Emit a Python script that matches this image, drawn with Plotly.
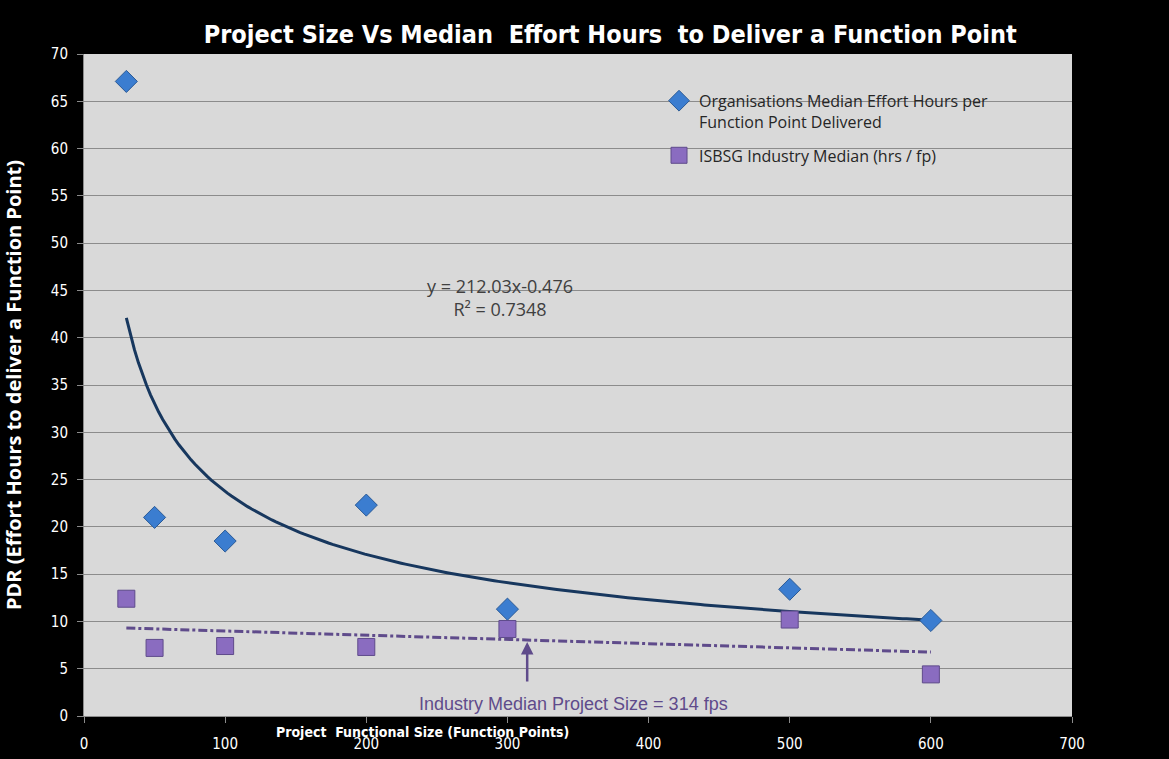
import numpy as np
import plotly.graph_objects as go

# ---- data ----
project_size = [30, 50, 100, 200, 300, 500, 600]
org_median_hours = [67.1, 21.0, 18.5, 22.3, 11.3, 13.4, 10.1]
isbsg_median_hours = [12.4, 7.2, 7.4, 7.3, 9.2, 10.2, 4.4]
industry_median_size = 314
x_ticks = [0, 100, 200, 300, 400, 500, 600, 700]
y_ticks = [0, 5, 10, 15, 20, 25, 30, 35, 40, 45, 50, 55, 60, 65, 70]

title_text = "Project Size Vs Median  Effort Hours  to Deliver a Function Point"
y_title = "PDR (Effort Hours to deliver a Function Point)"
x_title = "Project  Functional Size (Function Points)"
org_name = "Organisations Median Effort Hours per<br>Function Point Delivered"
isbsg_name = "ISBSG Industry Median (hrs / fp)"
eq_text = "y = 212.03x-0.476<br>R² = 0.7348"
median_text = "Industry Median Project Size = 314 fps"

# ---- trendlines fitted from the data (as the spreadsheet does) ----
xs = np.array(project_size, dtype=float)
b, ln_a = np.polyfit(np.log(xs), np.log(np.array(org_median_hours)), 1)
curve_x = np.linspace(min(xs), max(xs), 200)
curve_y = np.exp(ln_a) * curve_x ** b
m, c = np.polyfit(xs, np.array(isbsg_median_hours), 1)
lin_x = np.array([min(xs), max(xs)])
lin_y = m * lin_x + c

COND = "DejaVu Sans Condensed, DejaVu Sans, sans-serif"
OPEN = "Open Sans, Noto Sans, sans-serif"

fig = go.Figure()
fig.add_trace(go.Scatter(
    x=curve_x, y=curve_y, mode="lines", showlegend=False, hoverinfo="skip",
    line=dict(color="#17375e", width=3)))
fig.add_trace(go.Scatter(
    x=lin_x, y=lin_y, mode="lines", showlegend=False, hoverinfo="skip",
    line=dict(color="#5f4b8b", width=3, dash="dashdot")))
fig.add_trace(go.Scatter(
    x=project_size, y=org_median_hours, mode="markers", name=org_name,
    legendgroup="org",
    marker=dict(symbol="diamond", size=17, color="#3b7dd0",
                line=dict(color="#2a5a96", width=1))))
fig.add_trace(go.Scatter(
    x=project_size, y=isbsg_median_hours, mode="markers", name=isbsg_name,
    legendgroup="isbsg",
    marker=dict(symbol="square", size=17, color="#8a6cc0",
                line=dict(color="#5f4b8b", width=1))))

# arrow to industry median size on the linear trend
fig.add_annotation(
    x=industry_median_size, y=m * industry_median_size + c - 0.2,
    ax=industry_median_size, ay=3.5, xref="x", yref="y", axref="x", ayref="y",
    showarrow=True, arrowhead=2, arrowsize=1, arrowwidth=2.5, arrowcolor="#5f4b8b",
    text="")
fig.add_annotation(
    x=346.5, y=1.27, xref="x", yref="y", text=median_text, showarrow=False,
    font=dict(family="Liberation Sans, Arial, sans-serif", size=18, color="#5f4b8b"))
fig.add_annotation(
    x=295, y=44.3, xref="x", yref="y", text=eq_text, showarrow=False,
    font=dict(family=OPEN, size=18, color="#404040"), align="center")
fig.add_annotation(
    x=0.343, y=0, xref="paper", yref="paper", yanchor="top", yshift=-6,
    text="<b>" + x_title + "</b>", showarrow=False,
    font=dict(family=COND, size=14, color="white"))

fig.update_layout(
    width=1169, height=759,
    paper_bgcolor="black", plot_bgcolor="#d9d9d9",
    margin=dict(l=84, r=97, t=54, b=43, autoexpand=False),
    title=dict(text="<b>" + title_text + "</b>", x=0.522, xanchor="center",
               y=0.955, yanchor="middle",
               font=dict(family=COND, size=25, color="white")),
    legend=dict(x=0.582, y=0.955, xanchor="left", yanchor="top",
                bgcolor="rgba(0,0,0,0)", tracegroupgap=10, valign="top",
                font=dict(family=OPEN, size=16, color="#262626")),
    showlegend=True,
)
fig.update_xaxes(range=[0, 700], tickvals=x_ticks, showgrid=False, zeroline=False,
                 ticks="outside", ticklen=6, tickcolor="#8c8c8c",
                 showline=True, linecolor="#8c8c8c", linewidth=1,
                 ticklabelstandoff=8, automargin=False,
                 tickfont=dict(family=COND, size=15, color="white"))
fig.update_yaxes(range=[0, 70], tickvals=y_ticks, showgrid=True, gridcolor="#8c8c8c",
                 gridwidth=1, zeroline=False, ticks="outside", ticklen=6,
                 tickcolor="#8c8c8c", showline=True, linecolor="#8c8c8c",
                 ticklabelstandoff=6, automargin=False,
                 tickfont=dict(family=COND, size=15, color="white"),
                 title=dict(text="<b>" + y_title + "</b>", standoff=26,
                            font=dict(family=OPEN, size=20, color="white")))

fig.write_html("out.html",
               config={"displayModeBar": False},
               post_script="document.body.style.margin='0';"
                           "document.body.style.background='black';")
